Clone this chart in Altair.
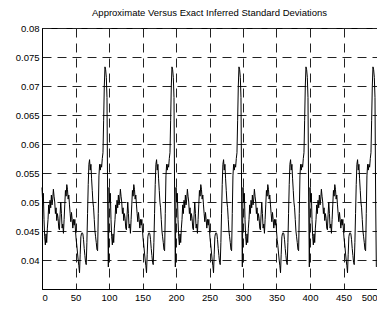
import altair as alt
import pandas as pd

# One cycle (offsets 0..99); the reference repeats this cycle 5 times.
cycle_offsets = list(range(100))
cycle_values = [
    0.0525, 0.0500, 0.0515, 0.0470, 0.0440, 0.0426, 0.0445, 0.0430, 0.0455, 0.0470,
    0.0495, 0.0480, 0.0503, 0.0490, 0.0512, 0.0495, 0.0505, 0.0522, 0.0510, 0.0500,
    0.0480, 0.0490, 0.0468, 0.0480, 0.0472, 0.0455, 0.0452, 0.0478, 0.0500, 0.0480,
    0.0455, 0.0462, 0.0446, 0.0470, 0.0495, 0.0520, 0.0510, 0.0530, 0.0522, 0.0505,
    0.0512, 0.0495, 0.0480, 0.0466, 0.0482, 0.0470, 0.0455, 0.0470, 0.0460, 0.0470,
    0.0450, 0.0435, 0.0425, 0.0412, 0.0400, 0.0390, 0.0378, 0.0410, 0.0440, 0.0446,
    0.0447, 0.0445, 0.0435, 0.0420, 0.0408, 0.0396, 0.0392, 0.0430, 0.0480, 0.0530,
    0.0565, 0.0573, 0.0555, 0.0565, 0.0540, 0.0520, 0.0500, 0.0490, 0.0470, 0.0450,
    0.0440, 0.0430, 0.0418, 0.0416, 0.0480, 0.0545, 0.0565, 0.0555, 0.0565, 0.0560,
    0.0575, 0.0585, 0.0640, 0.0700, 0.0733, 0.0728, 0.0715, 0.0680, 0.0500, 0.0388,
]
cycle_starts = [0, 100, 200, 300, 400]

x_ticks = [0, 50, 100, 150, 200, 250, 300, 350, 400, 450, 500]
y_ticks = [0.04, 0.045, 0.05, 0.055, 0.06, 0.065, 0.07, 0.075, 0.08]
title_text = "Approximate Versus Exact Inferred Standard Deviations"

rows = []
for s in cycle_starts:
    for o, v in zip(cycle_offsets, cycle_values):
        rows.append({"x": s + o, "y": v})
df = pd.DataFrame(rows)

chart = (
    alt.Chart(df)
    .mark_line(color="black", strokeWidth=1)
    .encode(
        x=alt.X("x:Q", scale=alt.Scale(domain=[0, 500], nice=False, zero=False),
                axis=alt.Axis(values=x_ticks, format="d", title=None)),
        y=alt.Y("y:Q", scale=alt.Scale(domain=[0.035, 0.08], nice=False, zero=False),
                axis=alt.Axis(values=y_ticks, format="~g", title=None)),
    )
    .properties(
        width=335,
        height=261,
        title=alt.TitleParams(title_text, fontSize=9.5, fontWeight="normal",
                              color="black", offset=6, anchor="middle"),
        autosize=alt.AutoSizeParams(type="none"),
        padding={"left": 34, "top": 20, "right": 0, "bottom": 14},
    )
    .configure_view(stroke="black", strokeWidth=1)
    .configure_axis(
        grid=True,
        gridColor="#222222",
        gridDash=[9, 6],
        gridWidth=1,
        gridOpacity=1,
        domainColor="black",
        domainWidth=1,
        ticks=False,
        labelFont="Liberation Sans",
        labelFontSize=9.5,
        labelColor="black",
        labelPadding=3,
    )
    .configure_title(font="Liberation Sans")
)

chart.save("out.html", embed_options={"renderer": "svg", "actions": False})
